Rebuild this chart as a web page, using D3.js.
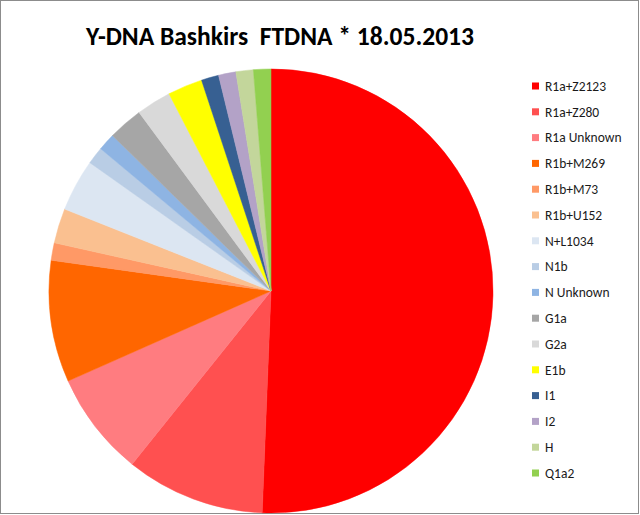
<!DOCTYPE html>
<html>
<head>
<meta charset="utf-8">
<script src="https://cdn.jsdelivr.net/npm/d3@7"></script>
<style>
  body { margin: 0; background: #fff; }
  svg { display: block; }
</style>
</head>
<body>
<svg id="chart" width="640" height="515"></svg>
<script>
// haplogroup counts (unit ~4.56 deg, total 79)
let groups = ["R1a+Z2123", "R1a+Z280", "R1a Unknown", "R1b+M269", "R1b+M73",
              "R1b+U152", "N+L1034", "N1b", "N Unknown", "G1a", "G2a",
              "E1b", "I1", "I2", "H", "Q1a2"];
let counts = [40, 8, 6, 7, 1, 2, 3, 1, 1, 2, 2, 2, 1, 1, 1, 1];
let colors = ["#FF0000", "#FF5050", "#FF7C80", "#FF6600", "#FF9966",
              "#FAC090", "#DCE6F2", "#B9CDE5", "#8EB4E3", "#A6A6A6", "#D9D9D9",
              "#FFFF00", "#376092", "#B3A2C7", "#C3D69B", "#92D050"];
let chartTitle = "Y-DNA Bashkirs  FTDNA * 18.05.2013";

let font = "Carlito, Calibri, 'Liberation Sans', Arial, sans-serif";

let svg = d3.select("#chart");

// outer frame
svg.append("rect")
  .attr("x", 0.5).attr("y", 0.5)
  .attr("width", 638).attr("height", 513)
  .attr("fill", "#fff")
  .attr("stroke", "#8c8c8c")
  .attr("stroke-width", 1);

// title (keep the double space)
svg.append("text")
  .attr("x", 280)
  .attr("y", 45)
  .attr("text-anchor", "middle")
  .attr("textLength", 388)
  .attr("lengthAdjust", "spacingAndGlyphs")
  .style("white-space", "pre")
  .style("font-family", font)
  .style("font-weight", "bold")
  .style("font-size", "27px")
  .style("fill", "#000")
  .text(chartTitle);

// pie
let radius = 222;
let color = d3.scaleOrdinal().domain(groups).range(colors);

let pie = d3.pie()
  .sort(null)
  .value(function(d, i) { return counts[i]; });

let arc = d3.arc()
  .innerRadius(0)
  .outerRadius(radius);

let g = svg.append("g")
  .attr("transform", "translate(271,291)");

g.selectAll("path")
  .data(pie(groups))
  .enter()
  .append("path")
    .attr("d", arc)
    .attr("fill", function(d) { return color(d.data); })
    .attr("stroke", function(d) { return color(d.data); })
    .attr("stroke-width", 0.5);

// legend
let legendY = d3.scalePoint()
  .domain(groups)
  .range([86, 473]);

let legend = svg.append("g")
  .attr("class", "legend")
  .selectAll("g")
  .data(groups)
  .enter()
  .append("g")
    .attr("transform", function(d) { return "translate(532," + legendY(d) + ")"; });

legend.append("rect")
  .attr("x", 0)
  .attr("y", -3.5)
  .attr("width", 7)
  .attr("height", 7)
  .attr("fill", function(d) { return color(d); });

legend.append("text")
  .attr("x", 13)
  .attr("y", 0)
  .attr("dy", "0.35em")
  .style("font-family", font)
  .style("font-size", "13.5px")
  .style("fill", "#1a1a1a")
  .text(function(d) { return d; });
</script>
</body>
</html>
